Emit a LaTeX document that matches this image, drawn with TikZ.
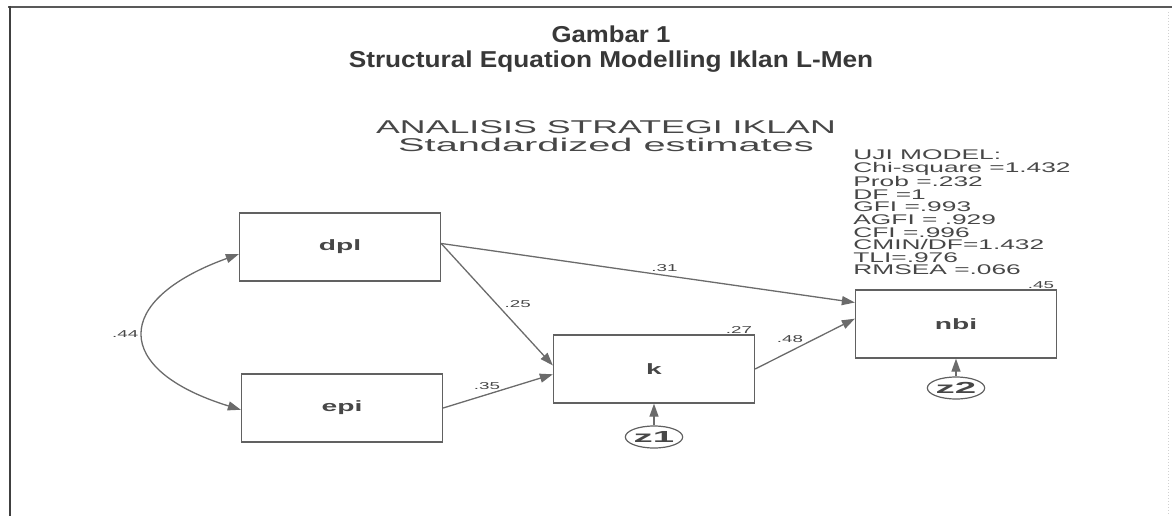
\documentclass[tikz,border=0pt]{standalone}
\usepackage{fontspec}
\setmainfont{Liberation Sans}
\usetikzlibrary{arrows.meta,shapes.geometric}
\newcommand{\widen}[2][1.88]{\scalebox{#1}[1]{#2}}

\begin{document}
\begin{tikzpicture}[x=1pt,y=-1pt,>={Triangle[length=13pt,width=9pt]},
  every node/.style={text=black!72},
  var/.style={draw=black!62,line width=1.3pt,minimum width=201pt,minimum height=68pt,inner sep=0pt,font=\bfseries\fontsize{15}{15}\selectfont},
  err/.style={ellipse,draw=black!62,line width=1.2pt,minimum width=55pt,minimum height=22pt,inner sep=0pt,font=\bfseries\fontsize{16}{16}\selectfont},
  link/.style={->,draw=black!58,line width=1.3pt},
  coef/.style={font=\fontsize{10}{10}\selectfont,inner sep=1pt}]
  \useasboundingbox (0,0) rectangle (1172,516);
  % frame of the figure
  \draw[black!65,line width=2pt] (8,7) -- (1172,7);
  \draw[black!75,line width=2pt] (10,6) -- (10,516);
  \draw[black!18,line width=1pt,dotted] (1168,12) -- (1168,516);
  % caption
  \node[anchor=base,font=\bfseries\fontsize{23}{23}\selectfont,text=black!78] (num) at (611,43) {\widen[1.12]{Gambar 1}};
  \node[anchor=base,font=\bfseries\fontsize{23}{23}\selectfont,text=black!78] (cap) at (611,68) {\widen[1.14]{Structural Equation Modelling Iklan L-Men}};
  % AMOS heading and fit indices
  \node[anchor=north,align=center,inner sep=0pt,font=\fontsize{18.5}{18.5}\selectfont] (head) at (606,120)
    {\widen[1.93]{ANALISIS STRATEGI IKLAN}\\\widen[2.15]{Standardized estimates}};
  \node[anchor=north west,align=left,inner sep=0pt,xscale=1.88,font=\fontsize{14}{12.6}\selectfont] (fit) at (853,150)
    {UJI MODEL:\\Chi-square =1.432\\Prob =.232\\DF =1\\GFI =.993\\AGFI = .929\\CFI =.996\\CMIN/DF=1.432\\TLI=.976\\RMSEA =.066};
  % variables
  \node[var] (dpl) at (340,247) {\widen{dpl}};
  \node[var] (epi) at (342,408) {\widen{epi}};
  \node[var] (k) at (654,369) {\widen{k}};
  \node[var] (nbi) at (956,324) {\widen{nbi}};
  \node[err] (z1) at (654,437) {\widen[2.4]{z1}};
  \node[err] (z2) at (956,388) {\widen[2.4]{z2}};
  % squared multiple correlations
  \node[coef,anchor=south east] (r2k) at ([xshift=-2pt]k.north east) {\widen{.27}};
  \node[coef,anchor=south east] (r2nbi) at ([xshift=-2pt]nbi.north east) {\widen{.45}};
  % paths
  \draw[link] (dpl.2) -- (nbi.168) node[coef,pos=0.54,above=2pt] {\widen{.31}};
  \draw[link] (dpl.2) -- (k.178) node[coef,pos=0.5,right=6pt] {\widen{.25}};
  \draw[link] (epi.east) -- (k.183) node[coef,pos=0.4,above=3pt] {\widen{.35}};
  \draw[link] (k.east) -- (nbi.177) node[coef,pos=0.35,above=7pt] {\widen{.48}};
  \draw[link] (z1) -- (k);
  \draw[link] (z2) -- (nbi);
  \draw[link,<->] (dpl.184) .. controls (112,300) and (112,370) .. (epi.181) node[coef,pos=0.5,left=4pt] {\widen{.44}};
\end{tikzpicture}
\end{document}
